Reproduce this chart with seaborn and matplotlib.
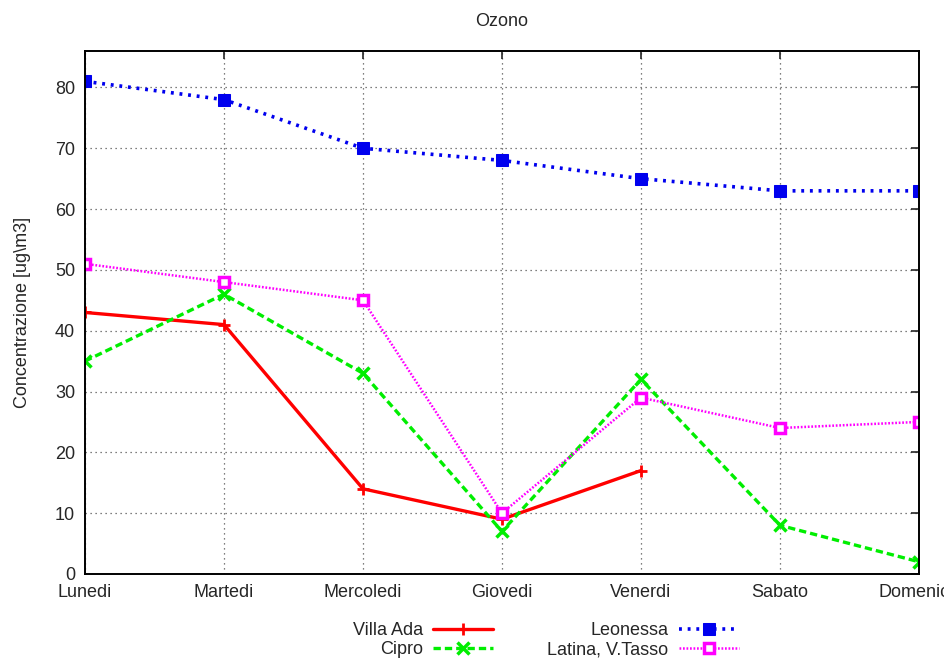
import numpy as np
import pandas as pd
import matplotlib
matplotlib.use('Agg')
import matplotlib.pyplot as plt
import seaborn as sns

# dati
giorni = ['Lunedi', 'Martedi', 'Mercoledi', 'Giovedi', 'Venerdi', 'Sabato', 'Domenica']
villa_ada = [43, 41, 14, 9, 17, np.nan, np.nan]
cipro = [35, 46, 33, 7, 32, 8, 2]
leonessa = [81, 78, 70, 68, 65, 63, 63]
latina = [51, 48, 45, 10, 29, 24, 25]

sns.set_style('white')
plt.rcParams['font.family'] = ['Liberation Sans', 'DejaVu Sans']
fs = 13

df = pd.DataFrame({'x': np.arange(len(giorni)), 'Villa Ada': villa_ada, 'Cipro': cipro,
                   'Leonessa': leonessa, 'Latina, V.Tasso': latina})

fig = plt.figure(figsize=(9.44, 6.62), dpi=100)
ax = fig.add_axes([0.090, 0.133, 0.8835, 0.790])

# una linea per stazione
sns.lineplot(data=df, x='x', y='Villa Ada', ax=ax, color='#ff0000', lw=2.4,
             marker='+', markersize=9, markeredgewidth=2, markeredgecolor='#ff0000', label='Villa Ada')
sns.lineplot(data=df, x='x', y='Cipro', ax=ax, color='#00ee00', lw=2.4, linestyle=(0, (2.2, 1.2)),
             marker='x', markersize=8, markeredgewidth=2.5, markeredgecolor='#00ee00', label='Cipro')
sns.lineplot(data=df, x='x', y='Leonessa', ax=ax, color='#0000ee', lw=2.6, linestyle=(0, (0.8, 1.6)),
             marker='s', markersize=8.5, markeredgecolor='#0000ee', label='Leonessa')
sns.lineplot(data=df, x='x', y='Latina, V.Tasso', ax=ax, color='#ff00ff', lw=1.8, linestyle=(0, (0.7, 0.7)),
             marker='s', markersize=6.5, markeredgewidth=2.5, markerfacecolor='white',
             markeredgecolor='#ff00ff', label='Latina, V.Tasso')

ax.set_xlim(0, 6)
ax.set_ylim(0, 86)
ax.set_xticks(range(len(giorni)))
ax.set_xticklabels(giorni)
ax.set_yticks(range(0, 81, 10))
ax.tick_params(direction='in', length=6, width=1.2, top=True, right=True,
               labeltop=False, labelright=False, pad=7, labelsize=fs)
ax.grid(True, linestyle=(0, (1, 3)), color='#555555', lw=0.9)
for s in ax.spines.values():
    s.set_linewidth(1.4)
    s.set_color('black')

ax.set_title('Ozono', fontsize=fs, pad=18)
ax.set_xlabel('')
ax.set_ylabel('Concentrazione [ug\\m3]', fontsize=fs, labelpad=17)

ax.legend(loc='center', bbox_to_anchor=(0.578, 0.033), bbox_transform=fig.transFigure,
          ncol=2, frameon=False, markerfirst=False, handlelength=3.3, handletextpad=0.6,
          columnspacing=3.0, labelspacing=0.12, fontsize=fs)

fig.savefig('out.png', dpi=100)
